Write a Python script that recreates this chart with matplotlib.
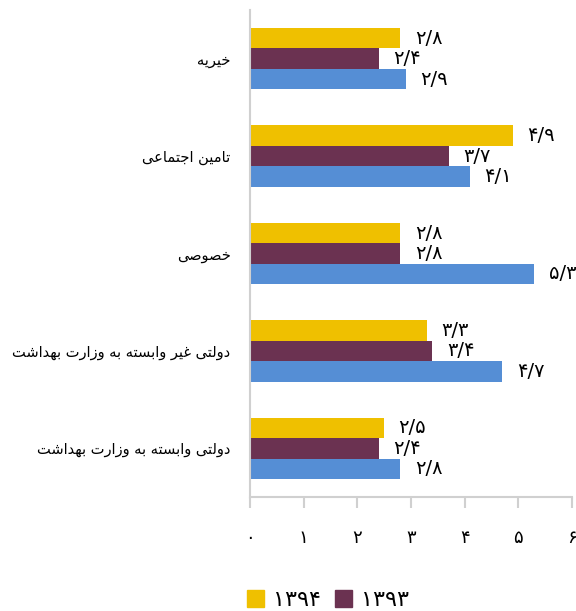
import matplotlib
matplotlib.use('Agg')
import matplotlib.pyplot as plt
from matplotlib.patches import Patch
import numpy as np

# data (bottom to top)
categories = ['دولتی وابسته به وزارت بهداشت', 'دولتی غیر وابسته به وزارت بهداشت',
              'خصوصی', 'تامین اجتماعی', 'خیریه']
v1394 = [2.5, 3.3, 2.8, 4.9, 2.8]
v1393 = [2.4, 3.4, 2.8, 3.7, 2.4]
v1392 = [2.8, 4.7, 5.3, 4.1, 2.9]
series_names = ['۱۳۹۴', '۱۳۹۳', '۱۳۹۲']
colors = ['#EFC000', '#6B3251', '#558ED5']

# minimal arabic shaping: matplotlib has no bidi / joining
FORMS = {
    'ا': ('\uFE8D', '\uFE8E', None, None),
    'ب': ('\uFE8F', '\uFE90', '\uFE91', '\uFE92'),
    'ت': ('\uFE95', '\uFE96', '\uFE97', '\uFE98'),
    'ج': ('\uFE9D', '\uFE9E', '\uFE9F', '\uFEA0'),
    'خ': ('\uFEA5', '\uFEA6', '\uFEA7', '\uFEA8'),
    'د': ('\uFEA9', '\uFEAA', None, None),
    'ر': ('\uFEAD', '\uFEAE', None, None),
    'ز': ('\uFEAF', '\uFEB0', None, None),
    'س': ('\uFEB1', '\uFEB2', '\uFEB3', '\uFEB4'),
    'ش': ('\uFEB5', '\uFEB6', '\uFEB7', '\uFEB8'),
    'ص': ('\uFEB9', '\uFEBA', '\uFEBB', '\uFEBC'),
    'ع': ('\uFEC9', '\uFECA', '\uFECB', '\uFECC'),
    'غ': ('\uFECD', '\uFECE', '\uFECF', '\uFED0'),
    'ل': ('\uFEDD', '\uFEDE', '\uFEDF', '\uFEE0'),
    'م': ('\uFEE1', '\uFEE2', '\uFEE3', '\uFEE4'),
    'ن': ('\uFEE5', '\uFEE6', '\uFEE7', '\uFEE8'),
    'ه': ('\uFEE9', '\uFEEA', '\uFEEB', '\uFEEC'),
    'و': ('\uFEED', '\uFEEE', None, None),
    'ی': ('\uFBFC', '\uFBFD', '\uFBFE', '\uFBFF'),
}


def shape(text):
    out = []
    n = len(text)
    for i, ch in enumerate(text):
        if ch not in FORMS:
            out.append(ch)
            continue
        f = FORMS[ch]
        prev = text[i - 1] if i > 0 else ''
        nxt = text[i + 1] if i < n - 1 else ''
        join_prev = prev in FORMS and FORMS[prev][2] is not None
        join_next = f[2] is not None and nxt in FORMS
        if join_prev and join_next:
            out.append(f[3])
        elif join_prev:
            out.append(f[1])
        elif join_next:
            out.append(f[2])
        else:
            out.append(f[0])
    return ''.join(out)[::-1]


def fa_num(x):
    s = '%.1f' % x
    return s.translate(str.maketrans('0123456789.', '۰۱۲۳۴۵۶۷۸۹/'))


plt.rcParams['font.family'] = ['DejaVu Sans']

fig = plt.figure(figsize=(5.76, 6.11), dpi=100)
ax = fig.add_axes([250/576, 1-497/611, 322/576, 487/611])

y = np.arange(len(categories))
h = 0.21
for k, vals in enumerate([v1394, v1393, v1392]):
    pos = y + h * (1 - k)
    bars = ax.barh(pos, vals, height=h, color=colors[k])
    for b, v in zip(bars, vals):
        ax.text(v + 0.27, b.get_y() + h/2, fa_num(v), va='center', ha='left',
                fontsize=14, color='black')

ax.set_xlim(0, 6)
ax.set_ylim(-0.5, 4.5)
ax.set_yticks(y)
ax.set_yticklabels([shape(c) for c in categories], fontsize=10.5)
ax.set_xticks(range(7))
ax.set_xticklabels([fa_num(i).split('/')[0] for i in range(7)], fontsize=13)
ax.tick_params(axis='y', length=0, pad=14)
ax.tick_params(axis='x', length=8, color='#D0D0D0', width=1.5, pad=15)
for s in ['top', 'right']:
    ax.spines[s].set_visible(False)
for s in ['left', 'bottom']:
    ax.spines[s].set_color('#D0D0D0')
    ax.spines[s].set_linewidth(1.5)

handles = [Patch(color=colors[0]), Patch(color=colors[1])]
fig.legend(handles, series_names[:2], loc='center left',
           bbox_to_anchor=(247/576, 1-600/611), ncol=2, frameon=False,
           fontsize=16, handlelength=0.77, handleheight=0.77, columnspacing=0.63,
           handletextpad=0.4, borderpad=0, borderaxespad=0)

fig.savefig('out.png', dpi=100)
